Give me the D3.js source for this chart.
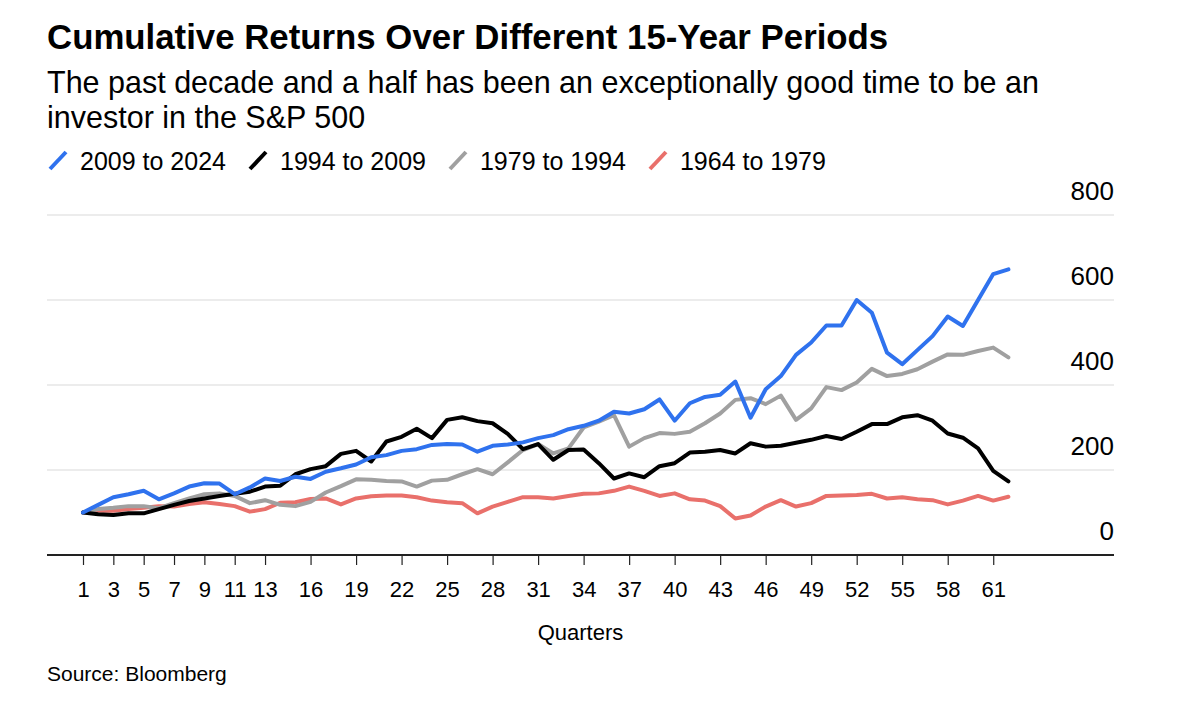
<!DOCTYPE html>
<html>
<head>
<meta charset="utf-8">
<script src="https://cdn.jsdelivr.net/npm/d3@7"></script>
<style>
  body { margin: 0; background: #fff; }
  svg { display: block; font-family: "Liberation Sans", Arial, Helvetica, sans-serif; }
</style>
</head>
<body>
<div id="chart"></div>
<script>
// quarters 1..62, cumulative value (start = 100)
const quarters = d3.range(1, 63)
const tickQuarters = [1, 3, 5, 7, 9, 11, 13, 16, 19, 22, 25, 28, 31, 34, 37, 40, 43, 46, 49, 52, 55, 58, 61]
const yTicks = [0, 200, 400, 600, 800]

const seriesNames = ['2009 to 2024', '1994 to 2009', '1979 to 1994', '1964 to 1979']

const r2009 = [100, 118, 136, 143, 151, 131, 145, 161, 169, 168, 143, 159, 180, 174, 184, 179, 196, 204, 213, 230,
  235, 245, 249, 259, 261, 260, 243, 257, 260, 265, 275, 282, 296, 304, 316, 337, 333, 343, 366, 316,
  357, 372, 377, 408, 323, 390, 421, 471, 500, 540, 540, 600, 570, 476, 449, 482, 515, 561, 539, 600,
  661, 672]
const r1994 = [100, 96, 94, 98, 98, 108, 118, 127, 133, 139, 144, 149, 161, 163, 190, 202, 209, 238, 245, 220,
  267, 278, 297, 275, 318, 324, 315, 310, 285, 249, 261, 224, 247, 248, 216, 180, 192, 183, 209, 216,
  241, 243, 247, 239, 263, 255, 257, 264, 271, 280, 273, 290, 308, 308, 324, 329, 316, 286, 276, 251,
  198, 173]
const r1979 = [100, 108, 111, 115, 115, 110, 122, 133, 143, 145, 139, 122, 129, 118, 115, 125, 147, 162, 178, 177,
  174, 173, 161, 175, 177, 190, 202, 190, 218, 247, 261, 239, 251, 300, 314, 329, 255, 275, 287, 285,
  290, 310, 333, 365, 369, 355, 375, 318, 345, 395, 388, 406, 438, 421, 426, 437, 455, 472, 471, 480,
  488, 465]
const r1964 = [100, 104, 104, 108, 111, 115, 114, 120, 124, 120, 115, 102, 108, 123, 124, 132, 133, 119, 133, 138,
  140, 140, 136, 128, 124, 122, 98, 114, 125, 136, 136, 133, 139, 144, 145, 151, 161, 151, 139, 145,
  131, 128, 115, 86, 93, 114, 129, 114, 122, 139, 140, 141, 144, 133, 136, 131, 129, 119, 128, 139,
  128, 137]

const colors = ['#2f72ee', '#000000', '#a0a0a0', '#e9706b']
const values = [r2009, r1994, r1979, r1964]

const width = 1200
const height = 704
const left = 47
const right = 1114

const svg = d3.select('#chart').append('svg')
  .attr('width', width)
  .attr('height', height)

// titles
svg.append('text')
  .attr('x', left).attr('y', 49)
  .attr('font-size', '34.8px').attr('font-weight', 'bold').attr('fill', '#000')
  .text('Cumulative Returns Over Different 15-Year Periods')
svg.append('text')
  .attr('x', left).attr('y', 93)
  .attr('font-size', '30.5px').attr('fill', '#000')
  .text('The past decade and a half has been an exceptionally good time to be an')
svg.append('text')
  .attr('x', left).attr('y', 128)
  .attr('font-size', '30.5px').attr('fill', '#000')
  .text('investor in the S&P 500')

// legend
let lx = left + 1
seriesNames.forEach(function (name, i) {
  svg.append('line')
    .attr('x1', lx + 2).attr('y1', 169)
    .attr('x2', lx + 18).attr('y2', 152)
    .attr('stroke', colors[i]).attr('stroke-width', 4)
  const t = svg.append('text')
    .attr('x', lx + 32).attr('y', 170)
    .attr('font-size', '25px').attr('fill', '#000')
    .text(name)
  lx = lx + 32 + t.node().getComputedTextLength() + 22
})

const x = d3.scaleLinear().domain([1, 62]).range([83, 1008.4])
const y = d3.scaleLinear().domain([0, 800]).range([555, 215])

// grid + y labels
svg.append('g')
  .selectAll('line')
  .data(yTicks.filter(function (d) { return d > 0 }))
  .enter()
  .append('line')
  .attr('x1', left).attr('x2', right)
  .attr('y1', function (d) { return y(d) }).attr('y2', function (d) { return y(d) })
  .attr('stroke', '#e6e6e6').attr('stroke-width', 1.5)

svg.append('g')
  .selectAll('text')
  .data(yTicks)
  .enter()
  .append('text')
  .attr('x', right)
  .attr('y', function (d) { return y(d) - 15 })
  .attr('text-anchor', 'end')
  .attr('font-size', '26px').attr('fill', '#000')
  .text(function (d) { return d })

// x axis
const xAxis = svg.append('g')
  .attr('transform', 'translate(0,' + y(0) + ')')
  .call(d3.axisBottom(x).tickValues(tickQuarters).tickSize(10).tickPadding(11).tickFormat(d3.format('d')))
xAxis.select('.domain').remove()
xAxis.selectAll('.tick line').attr('stroke', '#222').attr('stroke-width', 1.2)
xAxis.selectAll('.tick text')
  .attr('font-size', '22px').attr('fill', '#000')
  .attr('font-family', '"Liberation Sans", Arial, sans-serif')
  .attr('dy', '0.95em')
svg.append('line')
  .attr('x1', left).attr('x2', right)
  .attr('y1', y(0)).attr('y2', y(0))
  .attr('stroke', '#222').attr('stroke-width', 2)

svg.append('text')
  .attr('x', (left + right) / 2).attr('y', 640)
  .attr('text-anchor', 'middle')
  .attr('font-size', '22px').attr('fill', '#000')
  .text('Quarters')

svg.append('text')
  .attr('x', left).attr('y', 681)
  .attr('font-size', '21px').attr('fill', '#000')
  .text('Source: Bloomberg')

// lines, drawn bottom series first so blue ends up on top
const line = d3.line()
  .x(function (d, i) { return x(quarters[i]) })
  .y(function (d) { return y(d) })

const order = [3, 2, 1, 0]
svg.append('g')
  .selectAll('path')
  .data(order)
  .enter()
  .append('path')
  .attr('d', function (i) { return line(values[i]) })
  .attr('fill', 'none')
  .attr('stroke', function (i) { return colors[i] })
  .attr('stroke-width', 4)
  .attr('stroke-linejoin', 'round')
  .attr('stroke-linecap', 'round')
</script>
</body>
</html>
